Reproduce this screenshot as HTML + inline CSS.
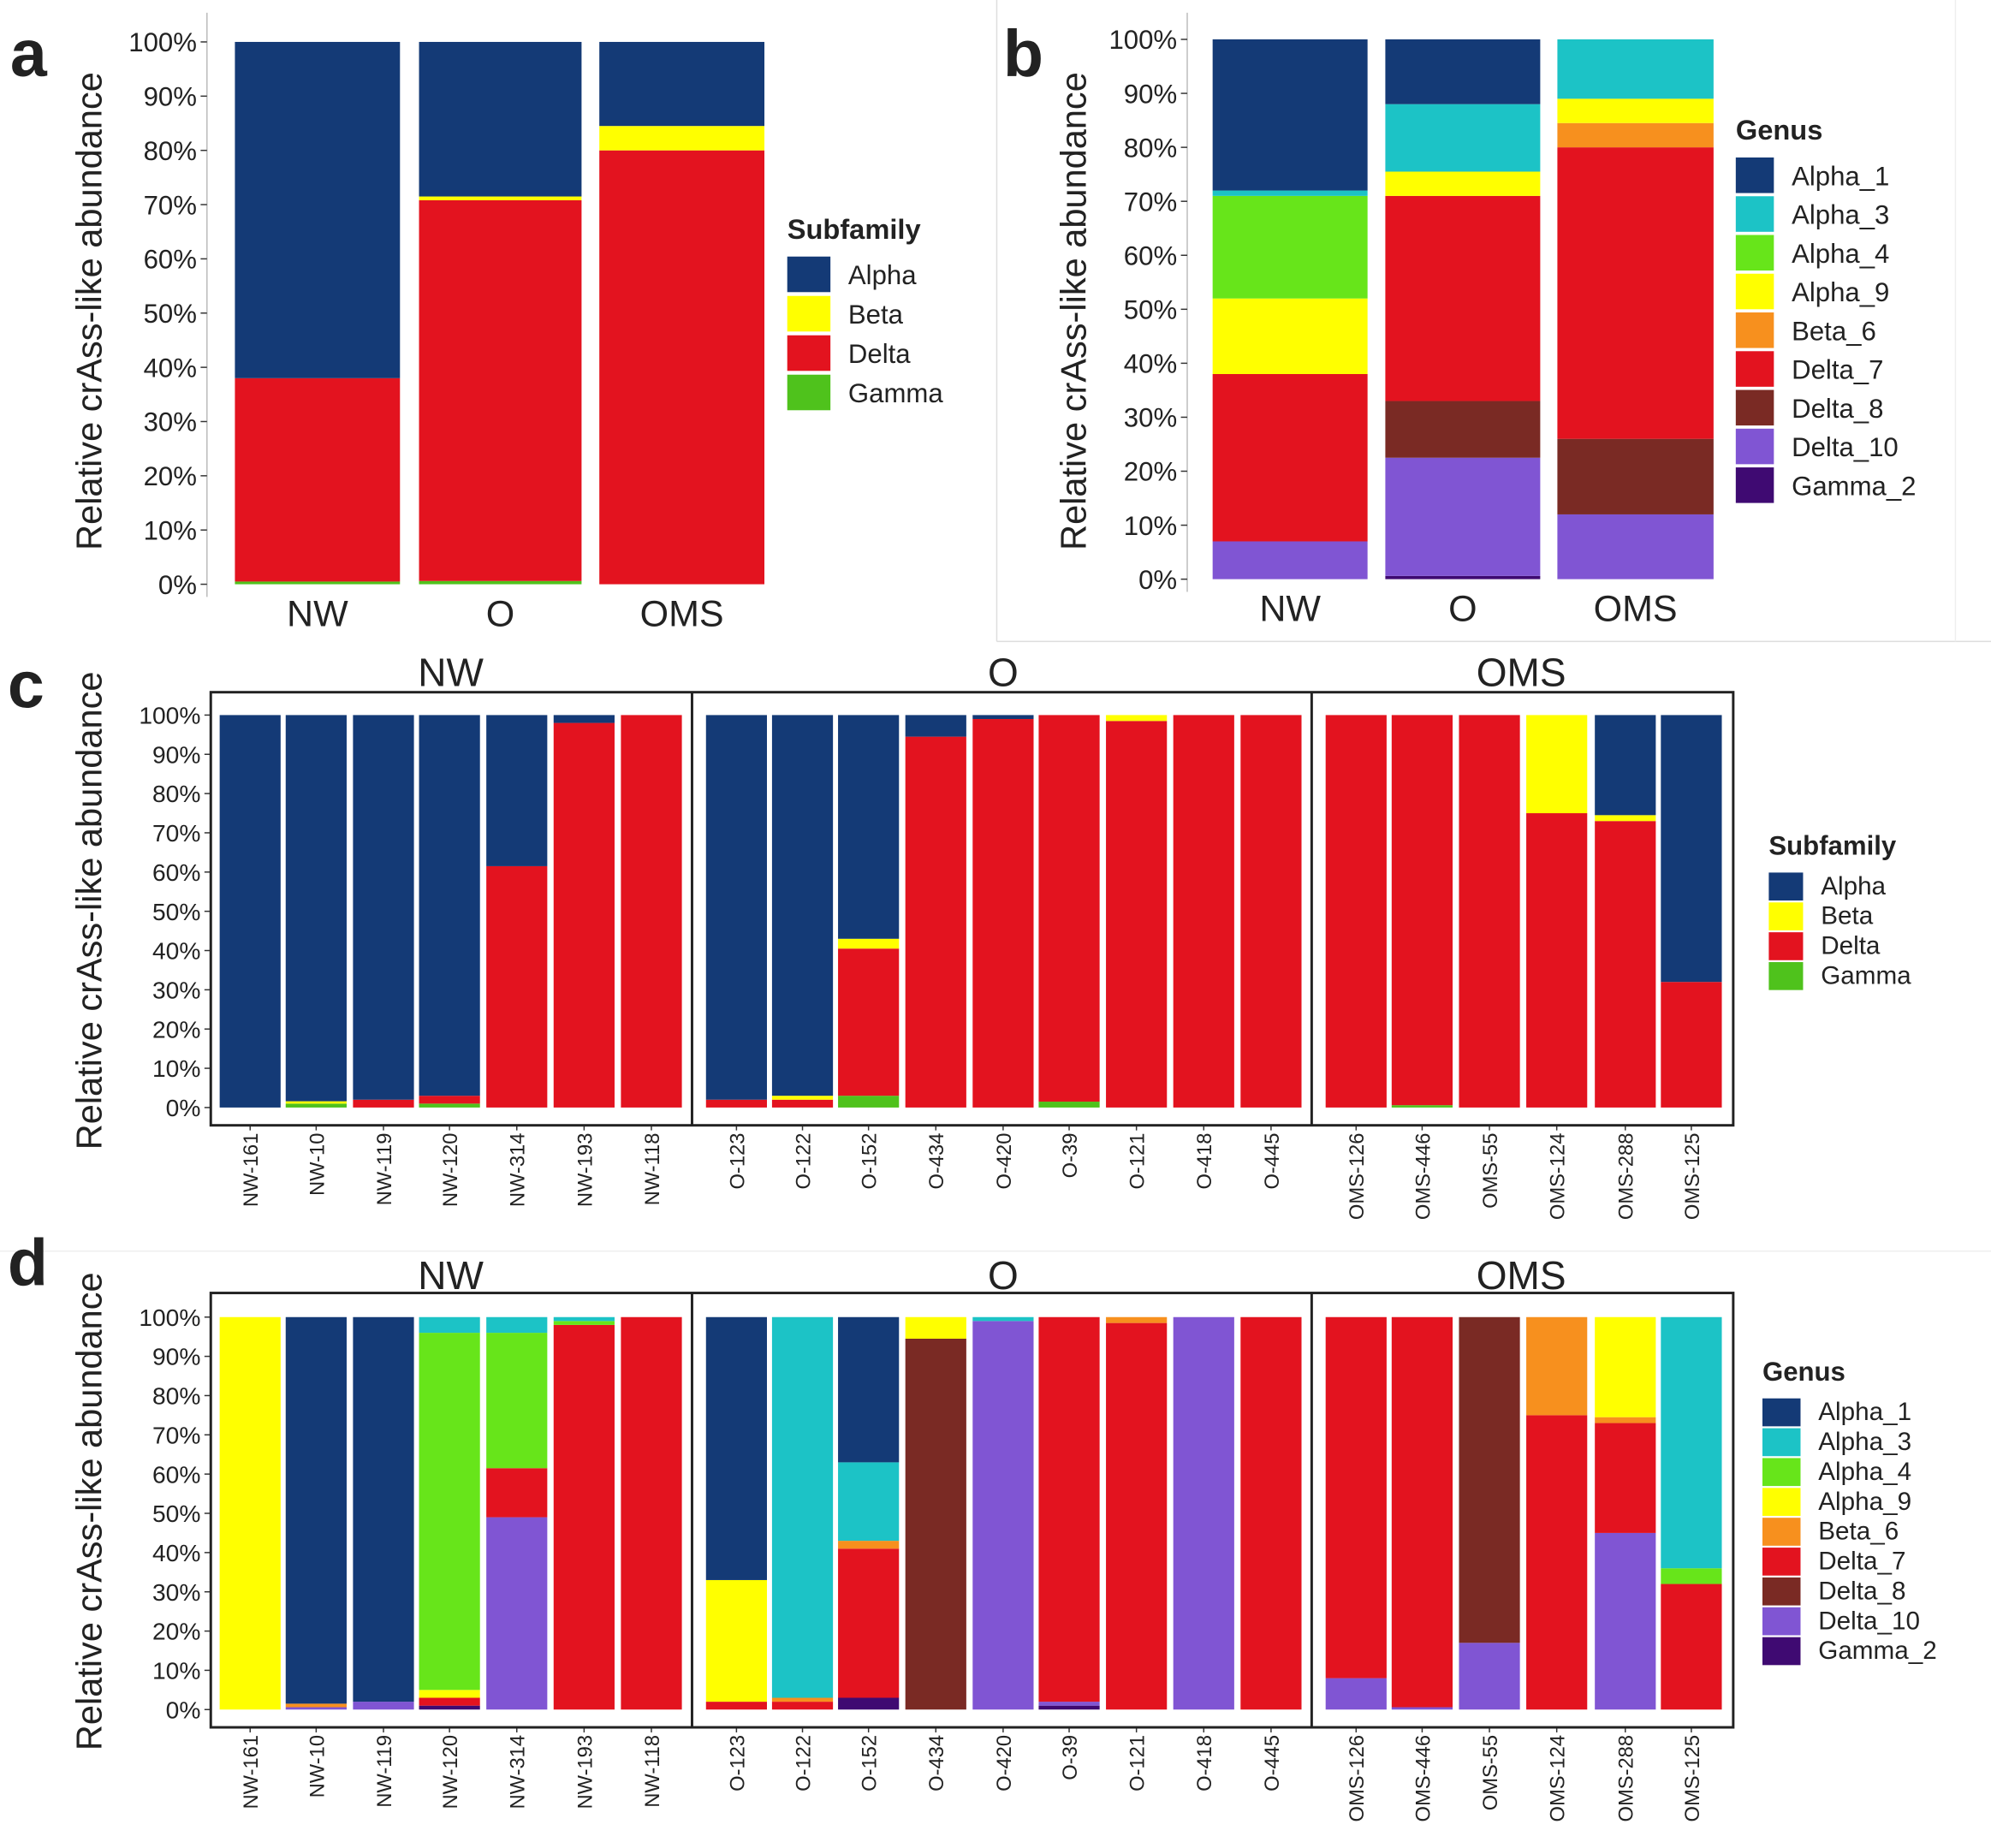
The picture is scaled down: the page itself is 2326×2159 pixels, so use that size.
<!DOCTYPE html>
<html><head><meta charset="utf-8"><style>
html,body{margin:0;padding:0;background:#fff}
svg{display:block}
text{font-family:"Liberation Sans",sans-serif;fill:#222}
</style></head><body>
<svg id="s" width="2326" height="2159" viewBox="0 0 1568 1455" preserveAspectRatio="none" xmlns="http://www.w3.org/2000/svg"></svg>
<script>
const C={A1:"#143a76",A3:"#1cc3c6",A4:"#67e51a",A9:"#ffff00",B6:"#f7901e",D7:"#e3131f",D8:"#7a2a24",D10:"#8055d3",G2:"#3f0a72",
Alpha:"#143a76",Beta:"#ffff00",Delta:"#e3131f",Gamma:"#4fc21c"};
let h='';
function rect(x,y,w,hh,f,extra){h+=`<rect x="${x}" y="${y}" width="${w}" height="${hh}" fill="${f}" ${extra||''}/>`;}
function txt(x,y,s,t,extra){h+=`<text x="${x}" y="${y}" font-size="${s}" ${extra||''}>${t}</text>`;}
function bar(cx,w,y0,y100,segs){ // segs: [[color,from,to],...]
  const k=(y0-y100)/100;
  for(const [c,a,b] of segs){rect(cx-w/2,y0-b*k,w,(b-a)*k,C[c]);}
}
function yaxis(x,y0,y100,fs){
  const k=(y0-y100)/100;
  for(let p=0;p<=100;p+=10){const y=y0-p*k;
    txt(x-8,y+fs*0.36,fs,p+'%','text-anchor="end"');
    h+=`<line x1="${x-5}" y1="${y}" x2="${x}" y2="${y}" stroke="#333" stroke-width="1"/>`;}
}
function ytitle(x,y,fs){txt(x,y,fs,'Relative crAss-like abundance',`text-anchor="middle" transform="rotate(-90 ${x} ${y})"`);}
function legend(x,y0,title,items,sp,fs,kw,kh){
  txt(x,y0,fs+1,title,'font-weight="bold"');
  items.forEach((it,i)=>{const y=y0+14+i*sp;rect(x,y,kw,kh,C[it[0]]);txt(x+kw+14,y+kh*0.78,fs,it[1]);});
}
// separators
h+=`<line x1="785" y1="0" x2="785" y2="505" stroke="#ddd"/><line x1="785" y1="505" x2="1568" y2="505" stroke="#ddd"/><line x1="1540" y1="0" x2="1540" y2="505" stroke="#eee"/><line x1="0" y1="985" x2="1568" y2="985" stroke="#eee"/>`;
// panel a
txt(8,60,52,'a','font-weight="bold" fill="#000"');
h+=`<line x1="163" y1="10" x2="163" y2="470" stroke="#bbb"/>`;
yaxis(163,460,33,21);ytitle(80,245,28);
bar(250,130,460,33,[["Gamma",0,0.5],["Delta",0.5,38],["Alpha",38,100]]);
bar(394,128,460,33,[["Gamma",0,0.6],["Delta",0.6,70.8],["Beta",70.8,71.5],["Alpha",71.5,100]]);
bar(537,130,460,33,[["Delta",0,80],["Beta",80,84.5],["Alpha",84.5,100]]);
[["NW",250],["O",394],["OMS",537]].forEach(([t,x])=>txt(x,493,29,t,'text-anchor="middle"'));
legend(620,188,'Subfamily',[["Alpha","Alpha"],["Beta","Beta"],["Delta","Delta"],["Gamma","Gamma"]],31,21,34,28);
// panel b
txt(790,60,52,'b','font-weight="bold" fill="#000"');
h+=`<line x1="935" y1="10" x2="935" y2="466" stroke="#bbb"/>`;
yaxis(935,456,31,21);ytitle(855,245,28);
bar(1016,122,456,31,[["D10",0,7],["D7",7,38],["A9",38,52],["A4",52,71],["A3",71,72],["A1",72,100]]);
bar(1152,122,456,31,[["G2",0,0.6],["D10",0.6,22.5],["D8",22.5,33],["D7",33,71],["A9",71,75.5],["A3",75.5,88],["A1",88,100]]);
bar(1288,123,456,31,[["D10",0,12],["D8",12,26],["D7",26,80],["B6",80,84.5],["A9",84.5,89],["A3",89,100]]);
[["NW",1016],["O",1152],["OMS",1288]].forEach(([t,x])=>txt(x,489,29,t,'text-anchor="middle"'));
const G=[["A1","Alpha_1"],["A3","Alpha_3"],["A4","Alpha_4"],["A9","Alpha_9"],["B6","Beta_6"],["D7","Delta_7"],["D8","Delta_8"],["D10","Delta_10"],["G2","Gamma_2"]];
legend(1367,110,'Genus',G,30.5,21,30,28);
// panels c,d
const names=["NW-161","NW-10","NW-119","NW-120","NW-314","NW-193","NW-118","O-123","O-122","O-152","O-434","O-420","O-39","O-121","O-418","O-445","OMS-126","OMS-446","OMS-55","OMS-124","OMS-288","OMS-125"];
const xs=[197,249,302,354,407,460,513,580,632,684,737,790,842,895,948,1001,1068,1120,1173,1226,1280,1332];
const dc=[
[["Alpha",0,100]],
[["Gamma",0,1],["Beta",1,1.6],["Alpha",1.6,100]],
[["Delta",0,2],["Alpha",2,100]],
[["Gamma",0,1],["Delta",1,3],["Alpha",3,100]],
[["Delta",0,61.5],["Alpha",61.5,100]],
[["Delta",0,98],["Alpha",98,100]],
[["Delta",0,100]],
[["Delta",0,2],["Alpha",2,100]],
[["Delta",0,2],["Beta",2,3],["Alpha",3,100]],
[["Gamma",0,3],["Delta",3,40.5],["Beta",40.5,43],["Alpha",43,100]],
[["Delta",0,94.5],["Alpha",94.5,100]],
[["Delta",0,99],["Alpha",99,100]],
[["Gamma",0,1.5],["Delta",1.5,100]],
[["Delta",0,98.5],["Beta",98.5,100]],
[["Delta",0,100]],[["Delta",0,100]],[["Delta",0,100]],
[["Gamma",0,0.6],["Delta",0.6,100]],
[["Delta",0,100]],
[["Delta",0,75],["Beta",75,100]],
[["Delta",0,73],["Beta",73,74.5],["Alpha",74.5,100]],
[["Delta",0,32],["Alpha",32,100]]];
const dd=[
[["A9",0,100]],
[["D10",0,0.6],["B6",0.6,1.5],["A1",1.5,100]],
[["D10",0,2],["A1",2,100]],
[["G2",0,1],["D7",1,3],["A9",3,5],["A4",5,96],["A3",96,100]],
[["D10",0,49],["D7",49,61.5],["A4",61.5,96],["A3",96,100]],
[["D7",0,98],["A4",98,99],["A3",99,100]],
[["D7",0,100]],
[["D7",0,2],["A9",2,33],["A1",33,100]],
[["D7",0,2],["B6",2,3],["A3",3,100]],
[["G2",0,3],["D7",3,41],["B6",41,43],["A3",43,63],["A1",63,100]],
[["D8",0,94.5],["A9",94.5,100]],
[["D10",0,99],["A3",99,100]],
[["G2",0,1],["D10",1,2],["D7",2,100]],
[["D7",0,98.5],["B6",98.5,100]],
[["D10",0,100]],
[["D7",0,100]],
[["D10",0,8],["D7",8,100]],
[["D10",0,0.6],["D7",0.6,100]],
[["D10",0,17],["D8",17,100]],
[["D7",0,75],["B6",75,100]],
[["D10",0,45],["D7",45,73],["B6",73,74.5],["A9",74.5,100]],
[["D7",0,32],["A4",32,36],["A3",36,100]]];
function facet(fy0,fy1,y0,y100,data,ty){
  yaxis(166,y0,y100,19);
  data.forEach((d,i)=>{bar(xs[i],48,y0,y100,d);
    const x=xs[i]+6,y=fy1+6;txt(x,y,16,names[i],`text-anchor="end" transform="rotate(-90 ${x} ${y})"`);
    h+=`<line x1="${xs[i]}" y1="${fy1}" x2="${xs[i]}" y2="${fy1+4}" stroke="#333"/>`;});
  h+=`<rect x="166" y="${fy0}" width="1199" height="${fy1-fy0}" fill="none" stroke="#222" stroke-width="2"/>`;
  h+=`<line x1="545" y1="${fy0}" x2="545" y2="${fy1}" stroke="#222" stroke-width="2"/><line x1="1033" y1="${fy0}" x2="1033" y2="${fy1}" stroke="#222" stroke-width="2"/>`;
  [["NW",355],["O",790],["OMS",1198]].forEach(([t,x])=>txt(x,ty,31,t,'text-anchor="middle"'));
}
txt(6,557,52,'c','font-weight="bold" fill="#000"');
facet(545,886,872,563,dc,540);ytitle(80,717,28);
legend(1393,673,'Subfamily',[["Alpha","Alpha"],["Beta","Beta"],["Delta","Delta"],["Gamma","Gamma"]],23.5,20,27,22);
txt(6,1012,52,'d','font-weight="bold" fill="#000"');
facet(1018,1360,1346,1037,dd,1015);ytitle(80,1190,28);
legend(1388,1087,'Genus',G,23.5,20,30,22);
document.getElementById('s').innerHTML=h;
</script>
</body></html>
